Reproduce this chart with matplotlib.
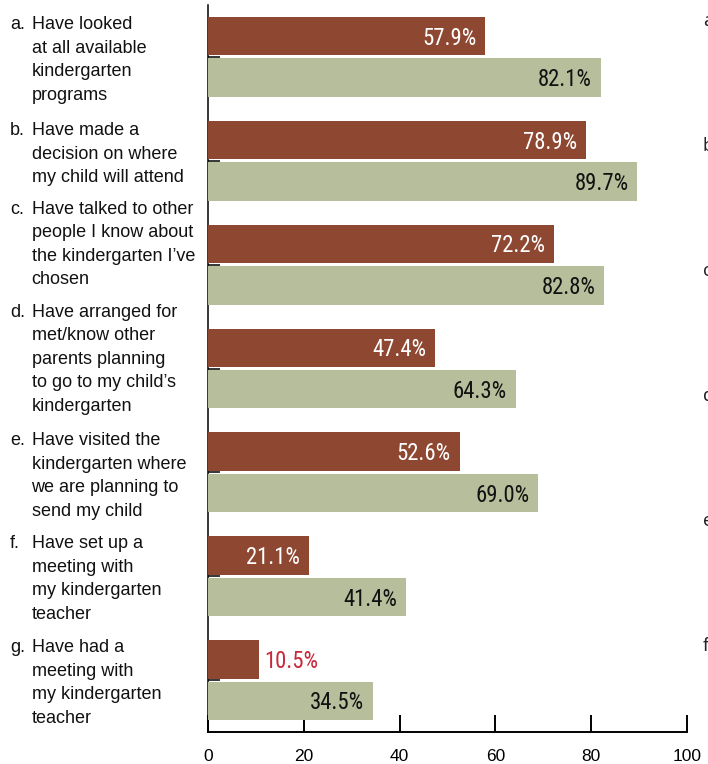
#!/usr/bin/env python3
"""Kindergarten transition activities: two-group horizontal bar chart."""
import numpy as np
import matplotlib
matplotlib.use('Agg')
import matplotlib.pyplot as plt
from matplotlib import font_manager

plt.rcParams.update({
    'font.family': ['Liberation Sans', 'DejaVu Sans'],
    'font.size': 12,
    'figure.dpi': 100,
    'savefig.dpi': 100,
})

letters = ['a.', 'b.', 'c.', 'd.', 'e.', 'f.', 'g.']
items = [
    'Have looked\nat all available\nkindergarten\nprograms',
    'Have made a\ndecision on where\nmy child will attend',
    'Have talked to other\npeople I know about\nthe kindergarten I\u2019ve\nchosen',
    'Have arranged for\nmet/know other\nparents planning\nto go to my child\u2019s\nkindergarten',
    'Have visited the\nkindergarten where\nwe are planning to\nsend my child',
    'Have set up a\nmeeting with\nmy kindergarten\nteacher',
    'Have had a\nmeeting with\nmy kindergarten\nteacher',
]
group1 = [57.9, 78.9, 72.2, 47.4, 52.6, 21.1, 10.5]
group2 = [82.1, 89.7, 82.8, 64.3, 69.0, 41.4, 34.5]

# letters of the neighbouring panel, cut off at the right edge
next_panel = ['a', 'b', 'c', 'd', 'e', 'f']

BROWN = '#8E4832'
SAGE = '#B7BE9B'
RED = '#C8283A'

# first-line baseline of each label block, pixels from the top
label_base = [29.3, 135.3, 213.5, 316.7, 445.0, 548.3, 652.3]


def narrow_font():
    """Find a condensed sans face among the installed fonts, if any."""
    cands = []
    for f in font_manager.fontManager.ttflist:
        if f.style != 'normal' or f.weight not in (400, 'normal', 'regular'):
            continue
        name = f.name.lower()
        narrow = ('narrow' in name or 'condensed' in name
                  or f.stretch in ('condensed', 'semi-condensed'))
        if not narrow:
            continue
        rank = 0 if 'liberation' in name else 1 if 'roboto' in name else \
            2 if 'noto sans' in name else 3 if 'open sans' in name else 4
        if 'mono' in name or 'serif' in name.replace('sans', ''):
            rank += 10
        cands.append((rank, f.fname))
    if cands:
        return font_manager.FontProperties(fname=sorted(cands)[0][1], size=16.4)
    return font_manager.FontProperties(family='Liberation Sans', size=13.8)


vprop = narrow_font()

W, H = 708, 764
fig = plt.figure(figsize=(W / 100, H / 100))
ax = fig.add_axes([208.3 / W, 32 / H, (686.7 - 208.3) / W, (759 - 32) / H])

y = np.arange(len(items))
bh = 0.37
off = 0.2
ax.barh(y - off, group1, height=bh, color=BROWN, zorder=3)
ax.barh(y + off, group2, height=bh, color=SAGE, zorder=3)

# value labels inside the bar ends (outside when the bar is too short)
pad = 9 / 4.784
for yi, v in zip(y, group1):
    if v < 15:
        ax.text(v + 6 / 4.784, yi - off + 0.02, f'{v:.1f}%', ha='left', va='center',
                fontproperties=vprop, color=RED, zorder=4)
    else:
        ax.text(v - pad, yi - off + 0.02, f'{v:.1f}%', ha='right', va='center',
                fontproperties=vprop, color='white', zorder=4)
for yi, v in zip(y, group2):
    ax.text(v - pad, yi + off + 0.02, f'{v:.1f}%', ha='right', va='center',
            fontproperties=vprop, color='#111111', zorder=4)

ax.set_xlim(0, 100)
ax.set_ylim(len(items) - 0.5, -0.5)
ax.set_xticks([0, 20, 40, 60, 80, 100])
ax.set_yticks(y)
ax.set_yticklabels([])
ax.tick_params(axis='x', direction='in', length=12, width=1.4, pad=12,
               labelsize=12.5, colors='black')
ax.tick_params(axis='y', direction='in', length=8.5, width=1.1)
for s in ['top', 'right']:
    ax.spines[s].set_visible(False)
ax.spines['bottom'].set_linewidth(1.4)
ax.spines['left'].set_linewidth(1.1)
ax.spines['left'].set_zorder(2)

# category labels with hanging indent
for base, let, txt in zip(label_base, letters, items):
    top = 1 - (base - 13) / H
    fig.text(10 / W, top, let, ha='left', va='top', fontsize=13, color='#111111')
    fig.text(31.5 / W, top, txt, ha='left', va='top', fontsize=13,
             color='#111111', linespacing=1.5)

for i, let in enumerate(next_panel):
    fig.text(703 / W, 1 - (21 + 125 * i) / H, let, ha='left', va='center',
             fontsize=13, family='Noto Sans', color='#222222')

fig.savefig('out.png')
plt.close(fig)
